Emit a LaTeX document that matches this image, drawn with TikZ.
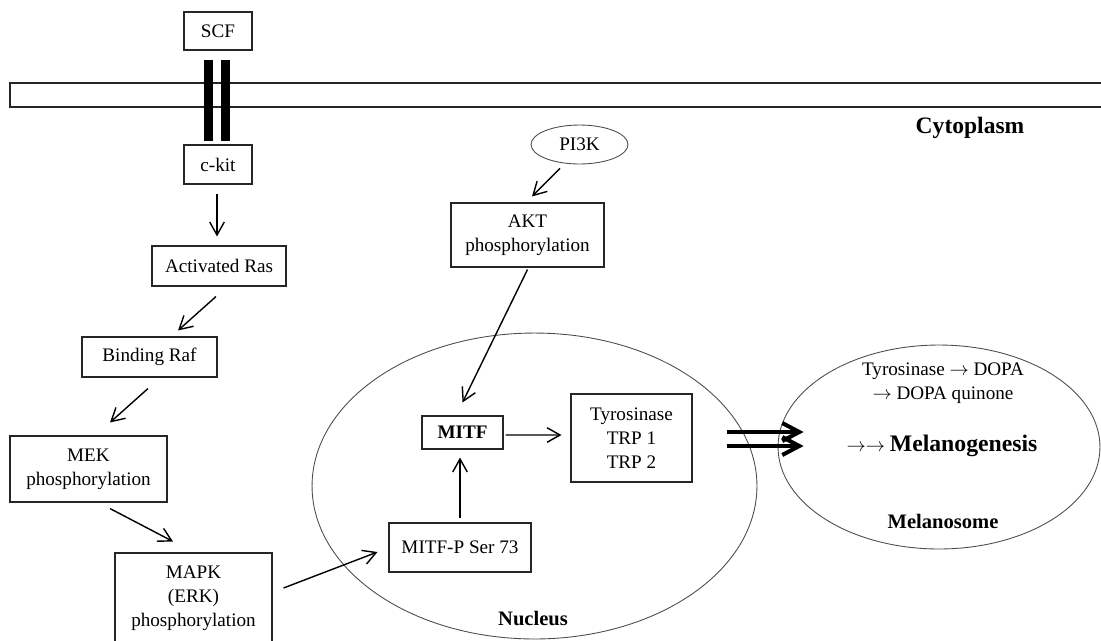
\documentclass[tikz,border=0pt]{standalone}
\usepackage{fontspec}
\setmainfont{Liberation Serif}
\usetikzlibrary{shapes.geometric,arrows.meta,positioning}
\tikzset{
  box/.style = {rectangle, draw=black!85, line width=0.6pt, align=center, inner sep=0pt, anchor=center},
  oval/.style = {ellipse, draw=black!70, line width=0.5pt, inner sep=0pt},
  link/.style = {->, line width=0.8pt},
  bigarrow/.style = {-{Straight Barb[length=3.4mm,width=3.6mm]}, line width=2.3pt},
  label/.style = {font=\fontsize{11.7}{14}\selectfont\bfseries}
}

\begin{document}
\begin{tikzpicture}[x=0.02cm, y=-0.02cm, >={Straight Barb[length=2.6mm,width=2.9mm]},
  font=\fontsize{10.9}{13.6}\selectfont]
\useasboundingbox (0,0) rectangle (1101,640);
% membrane and receptor
\draw[draw=black!85, line width=0.6pt] (1115,83) -- (10,83) -- (10,107) -- (1115,107);
\fill (204,60) rectangle (213,141);
\fill (221,60) rectangle (230,141);
% compartments
\node [oval, minimum width=8.9cm, minimum height=6.12cm] (nucleus) at (534.5,486) {};
\node [oval, minimum width=6.44cm, minimum height=4.08cm] (melano) at (939,447) {};
% boxes
\node [box, minimum width=1.36cm, minimum height=0.76cm] (scf) at (218,31) {SCF};
\node [box, minimum width=1.36cm, minimum height=0.78cm] (ckit) at (218,164.5) {c-kit};
\node [box, minimum width=2.68cm, minimum height=0.80cm] (ras) at (219,266) {Activated Ras};
\node [box, minimum width=2.70cm, minimum height=0.80cm] (raf) at (149.5,357) {Binding Raf};
\node [box, minimum width=3.14cm, minimum height=1.32cm] (mek) at (88.5,469) {MEK\\phosphorylation};
\node [box, minimum width=3.14cm, minimum height=1.80cm] (mapk) at (193.5,598) {MAPK\\(ERK)\\phosphorylation};
\node [box, minimum width=2.84cm, minimum height=0.98cm] (mitfp) at (460,547.5) {MITF-P Ser 73};
\node [box, minimum width=1.62cm, minimum height=0.66cm] (mitf) at (462.5,432.5) {\textbf{MITF}};
\node [box, minimum width=2.42cm, minimum height=1.76cm] (tyr) at (631.5,438) {Tyrosinase\\TRP 1\\TRP 2};
\node [box, minimum width=3.06cm, minimum height=1.28cm] (akt) at (527.5,235) {AKT\\phosphorylation};
\node [oval, minimum width=1.94cm, minimum height=0.78cm] (pi3k) at (579.5,144.5) {PI3K};
% labels
\node [label, font=\fontsize{13.4}{16}\selectfont\bfseries] (cyto) at (970,128) {Cytoplasm};
\node [label] (nuclab) at (533,618) {Nucleus};
\node [label] (melanolab) at (943,521) {Melanosome};
\node [align=center] (dopa) at (943,383) {Tyrosinase $\rightarrow$ DOPA\\$\rightarrow$ DOPA quinone};
\node (melgen) at (942,446) {$\rightarrow\rightarrow$ {\fontsize{13.5}{16}\selectfont\bfseries Melanogenesis}};
% MAPK pathway
\draw[link] ([shift={(-1,9)}]ckit.south) -- ([shift={(-2,-9)}]ras.north);
\draw[link] ([shift={(-3,10)}]ras.south) -- ([shift={(28.5,-6)}]raf.north);
\draw[link] ([shift={(-1.5,11)}]raf.south) -- ([shift={(21.5,-13)}]mek.north);
\draw[link] ([shift={(21.5,6)}]mek.south) -- ([shift={(-20.5,-11)}]mapk.north);
\draw[link] ([shift={(11,-10)}]mapk.east) -- ([shift={(-11,4.5)}]mitfp.west);
\draw[link] ([shift={(0,-4)}]mitfp.north) -- ([shift={(-2.5,8)}]mitf.south);
\draw[link] ([shift={(2,2.5)}]mitf.east) -- ([shift={(-9,-3)}]tyr.west);
% PI3K/AKT pathway
\draw[link] ([shift={(-19.5,4)}]pi3k.south) -- ([shift={(4.5,-6)}]akt.north);
\draw[link] ([shift={(0,2)}]akt.south) -- ([shift={(0,-13)}]mitf.north);
% to melanosome
\draw[bigarrow] ([shift={(34,-6)}]tyr.east) -- ([shift={(26,-15)}]melano.west);
\draw[bigarrow] ([shift={(34,8)}]tyr.east) -- ([shift={(26,-1)}]melano.west);
\end{tikzpicture}
\end{document}
